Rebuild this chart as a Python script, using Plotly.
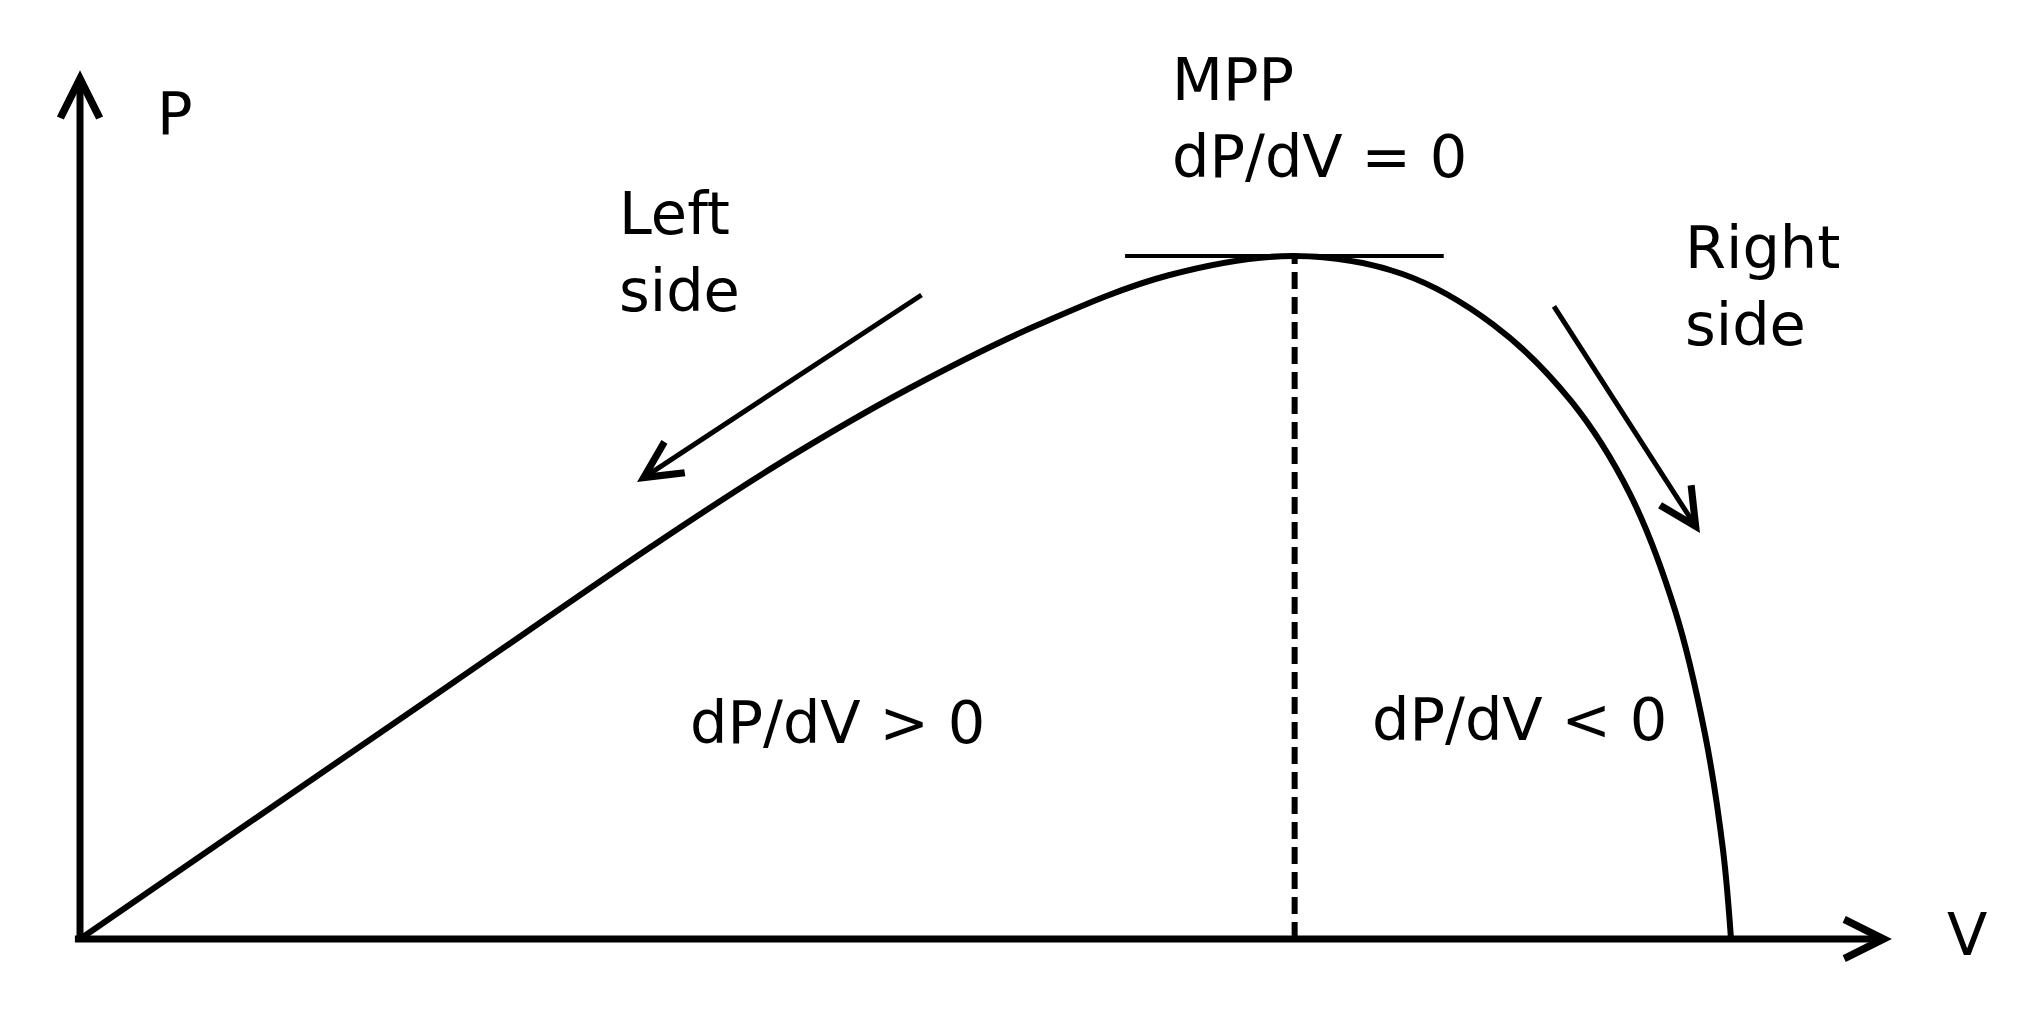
import plotly.graph_objects as go

# P-V curve of a PV module, normalised: V / Voc and P / Pmax
v_norm = [0.0, 0.1088, 0.2268, 0.3448, 0.4234, 0.5021, 0.5807, 0.6594, 0.7357,
          0.8010, 0.8560, 0.9032, 0.9386, 0.9661, 0.9842, 0.9952, 1.0]
p_norm = [0.0, 0.1809, 0.3767, 0.5725, 0.6961, 0.8060, 0.8996, 0.9718, 1.0,
          0.9737, 0.8996, 0.7874, 0.6524, 0.4813, 0.3006, 0.1296, 0.0]

# horizontal tangent drawn at the MPP
tangent_v = [0.633, 0.826]

region_labels = ["dP/dV > 0", "dP/dV < 0"]
side_labels = ["Left<br>side", "Right<br>side"]
mpp_label = "MPP<br>dP/dV = 0"

i_mpp = p_norm.index(max(p_norm))
v_mpp, p_mpp = v_norm[i_mpp], p_norm[i_mpp]

FONT = dict(family="DejaVu Sans, Open Sans, sans-serif", size=59, color="black")

fig = go.Figure()

# dashed drop line from the MPP to the V axis
fig.add_trace(go.Scatter(x=[v_mpp, v_mpp], y=[0, p_mpp], mode="lines",
                         line=dict(color="black", width=6, dash="17px,8px"),
                         hoverinfo="skip"))
# tangent at the MPP
fig.add_trace(go.Scatter(x=tangent_v, y=[p_mpp, p_mpp], mode="lines",
                         line=dict(color="black", width=4), hoverinfo="skip"))
# the P-V curve
fig.add_trace(go.Scatter(x=v_norm, y=p_norm, mode="lines",
                         line=dict(color="black", width=6, shape="spline", smoothing=1.0),
                         hoverinfo="skip"))


def arrow(tip, tail, width, size):
    return dict(x=tip[0], y=tip[1], ax=tail[0], ay=tail[1],
                xref="x", yref="y", axref="x", ayref="y",
                text="", showarrow=True, arrowhead=5, arrowsize=size,
                arrowwidth=width, arrowcolor="black", standoff=0)


def label(text, v, p):
    return dict(x=v, y=p, xref="x", yref="y", text=text, showarrow=False,
                xanchor="left", yanchor="middle", align="left", font=FONT)


annotations = [
    # axes
    arrow((1.0975, 0), (-0.004, 0), 7, 1.1),
    arrow((0, 1.272), (0, -0.006), 7, 1.1),
    # direction arrows either side of the MPP
    arrow((0.3374, 0.6691), (0.5106, 0.9444), 5, 1.45),
    arrow((0.9812, 0.5944), (0.8922, 0.9283), 5, 1.45),
    # text
    label("P", 0.0454, 1.208),
    label("V", 1.1296, 0.0073),
    label(mpp_label, 0.6602, 1.202),
    label(side_labels[0], 0.3253, 1.0059),
    label(side_labels[1], 0.9709, 0.9561),
    label(region_labels[0], 0.3683, 0.3177),
    label(region_labels[1], 0.7813, 0.3221),
]

fig.update_layout(
    width=2036, height=1017,
    margin=dict(l=0, r=0, t=0, b=0),
    paper_bgcolor="white", plot_bgcolor="white",
    showlegend=False,
    xaxis=dict(visible=False, range=[-0.04846, 1.18474], fixedrange=True),
    yaxis=dict(visible=False, range=[-0.1142, 1.37482], fixedrange=True),
    annotations=annotations,
)

fig.write_html("out.html", config={"displayModeBar": False},
               post_script="document.body.style.margin='0';document.body.style.overflow='hidden';")
